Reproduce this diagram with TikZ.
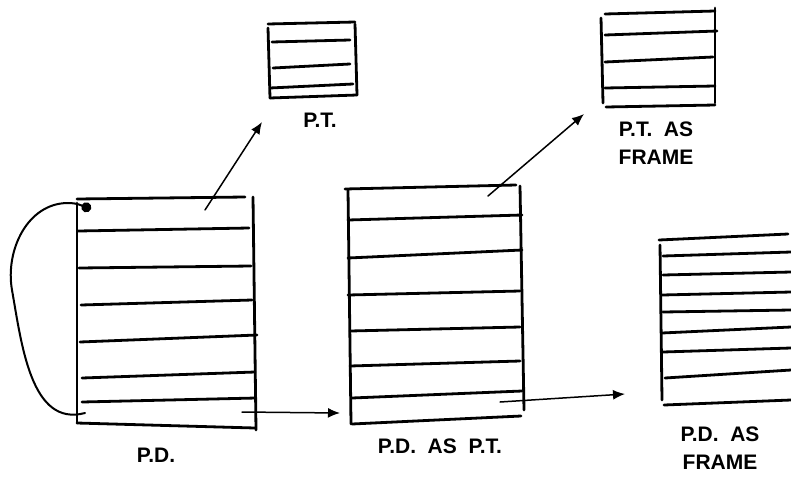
\documentclass[tikz,border=0pt]{standalone}
\usepackage{fontspec}
\setmainfont{Liberation Sans}
\usetikzlibrary{arrows.meta}
\tikzset{
  ink/.style={line width=2.8pt, line cap=round, line join=round, black},
  conn/.style={line width=1.5pt, line cap=round, -{Latex[length=12pt,width=10pt]}},
  dotconn/.style={line width=2pt, line cap=round, -{Circle[length=10pt]}},
  lbl/.style={font=\fontsize{21}{24}\selectfont\bfseries, inner sep=0pt, align=center}
}
\begin{document}
\begin{tikzpicture}[x=1pt,y=-1pt]
\useasboundingbox (0,0) rectangle (791,477);
% ---- P.D. box
\draw[ink] (77,203) -- (77,423);
\draw[ink] (253,197) -- (256,430);
\draw[ink] (77,199) -- (245,197);
\draw[ink] (78,231) -- (249,228);
\draw[ink] (79,268) -- (251,266);
\draw[ink] (81,305) -- (252,300);
\draw[ink] (80,342) -- (257,335);
\draw[ink] (82,378) -- (255,372);
\draw[ink] (82,402) -- (256,398);
\draw[ink] (77,423) -- (255,428);
\node[lbl] (pd) at (156,455) {P.D.};
% ---- P.T. box
\draw[ink] (268,28) -- (270,98);
\draw[ink] (355,24) -- (357,95);
\draw[ink] (268,24) -- (355,22);
\draw[ink] (272,42) -- (350,40);
\draw[ink] (273,68) -- (350,64);
\draw[ink] (270,88) -- (353,84);
\draw[ink] (270,98) -- (357,95);
\node[lbl] (pt) at (320,120) {P.T.};
% ---- P.D. as P.T. box
\draw[ink] (348,190) -- (351,424);
\draw[ink] (520,186) -- (524,410);
\draw[ink] (345,189) -- (516,185);
\draw[ink] (348,220) -- (522,215);
\draw[ink] (348,258) -- (522,250);
\draw[ink] (348,295) -- (520,291);
\draw[ink] (350,331) -- (520,327);
\draw[ink] (350,366) -- (520,361);
\draw[ink] (352,398) -- (522,391);
\draw[ink] (352,424) -- (521,416);
\node[lbl] (pdpt) at (440,446) {P.D.\ \ AS\ \ P.T.};
% ---- P.T. as frame box
\draw[ink] (601,18) -- (603,103);
\draw[ink] (715,8) -- (715,103);
\draw[ink] (605,14) -- (715,11);
\draw[ink] (605,35) -- (717,31);
\draw[ink] (605,62) -- (713,57);
\draw[ink] (605,88) -- (715,86);
\draw[ink] (606,107) -- (715,105);
\node[lbl] (ptf) at (656,143) {P.T.\ \ AS\\[4pt]FRAME};
% ---- P.D. as frame box
\draw[ink] (660,245) -- (662,400);
\draw[ink] (659,240) -- (788,234);
\draw[ink] (663,256) -- (791,252);
\draw[ink] (663,275) -- (791,272);
\draw[ink] (662,295) -- (791,292);
\draw[ink] (663,312) -- (791,310);
\draw[ink] (662,333) -- (791,327);
\draw[ink] (663,352) -- (791,348);
\draw[ink] (665,378) -- (791,370);
\draw[ink] (664,405) -- (791,400);
\node[lbl] (pdf) at (720,448) {P.D.\ \ AS\\[4pt]FRAME};
% ---- connector end points
\coordinate (pdtop) at (205,210);
\coordinate (pttip) at (262,122);
\coordinate (pdbot) at (242,412);
\coordinate (pdpttip) at (340,413);
\coordinate (pdlast) at (85,413);
\coordinate (pdfirst) at (91,209);
\coordinate (pdpttop) at (488,196);
\coordinate (ptftip) at (584,114);
\coordinate (pdptbot) at (500,402);
\coordinate (pdftip) at (625,394);
% ---- connectors
\draw[conn] (pdtop) -- (pttip);
\draw[conn] (pdbot) -- (pdpttip);
\draw[conn] (pdpttop) -- (ptftip);
\draw[conn] (pdptbot) -- (pdftip);
\draw[dotconn] (pdlast) to[out=195,in=-80] (12,290) to[out=100,in=180] (68,203) to[out=0,in=160] (pdfirst);
\end{tikzpicture}
\end{document}
